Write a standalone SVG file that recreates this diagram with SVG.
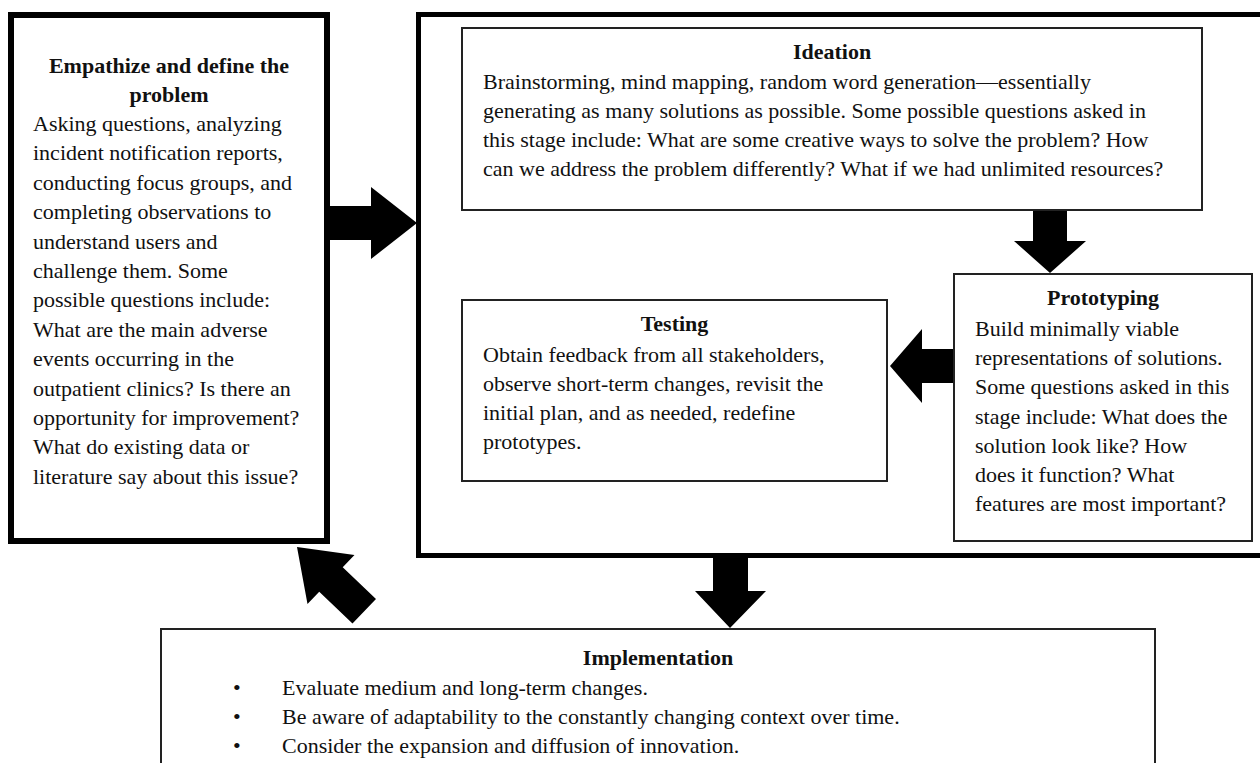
<svg xmlns="http://www.w3.org/2000/svg" width="1260" height="763" viewBox="0 0 1260 763">
<style>
.t{font-family:"Liberation Serif","Times New Roman",serif;font-size:22px;fill:#111}
.b{font-weight:bold;text-anchor:middle}
.thick{fill:#fff;stroke:#000;stroke-width:6}
.thin{fill:#fff;stroke:#222;stroke-width:2}
.arr{fill:#000;stroke:none}
</style>
<rect width="1260" height="763" fill="#fff"/>
<g id="cycle-frame">
<rect class="thick" x="418.5" y="14.5" width="850" height="541" style="stroke-width:5"/>
</g>
<g id="empathize">
<rect class="thick" x="11" y="15" width="316" height="526"/>
<text class="t b" x="169" y="73">Empathize and define the</text>
<text class="t b" x="169" y="102">problem</text>
<text class="t" x="33" y="131">Asking questions, analyzing</text>
<text class="t" x="33" y="160.4">incident notification reports,</text>
<text class="t" x="33" y="189.8">conducting focus groups, and</text>
<text class="t" x="33" y="219.2">completing observations to</text>
<text class="t" x="33" y="248.6">understand users and</text>
<text class="t" x="33" y="278">challenge them. Some</text>
<text class="t" x="33" y="307.4">possible questions include:</text>
<text class="t" x="33" y="336.8">What are the main adverse</text>
<text class="t" x="33" y="366.2">events occurring in the</text>
<text class="t" x="33" y="395.6">outpatient clinics? Is there an</text>
<text class="t" x="33" y="425">opportunity for improvement?</text>
<text class="t" x="33" y="454.4">What do existing data or</text>
<text class="t" x="33" y="483.8">literature say about this issue?</text>
</g>
<g id="ideation">
<rect class="thin" x="462" y="28" width="740" height="182"/>
<text class="t b" x="832" y="59">Ideation</text>
<text class="t" x="483" y="89">Brainstorming, mind mapping, random word generation—essentially</text>
<text class="t" x="483" y="118">generating as many solutions as possible. Some possible questions asked in</text>
<text class="t" x="483" y="147">this stage include: What are some creative ways to solve the problem? How</text>
<text class="t" x="483" y="176">can we address the problem differently? What if we had unlimited resources?</text>
</g>
<g id="testing">
<rect class="thin" x="462" y="300" width="425" height="181"/>
<text class="t b" x="674.5" y="331">Testing</text>
<text class="t" x="483" y="362">Obtain feedback from all stakeholders,</text>
<text class="t" x="483" y="391">observe short-term changes, revisit the</text>
<text class="t" x="483" y="420">initial plan, and as needed, redefine</text>
<text class="t" x="483" y="449">prototypes.</text>
</g>
<g id="prototyping">
<rect class="thin" x="954" y="274" width="298" height="267"/>
<text class="t b" x="1103" y="305">Prototyping</text>
<text class="t" x="975" y="336">Build minimally viable</text>
<text class="t" x="975" y="365">representations of solutions.</text>
<text class="t" x="975" y="394">Some questions asked in this</text>
<text class="t" x="975" y="424">stage include: What does the</text>
<text class="t" x="975" y="453">solution look like? How</text>
<text class="t" x="975" y="482">does it function? What</text>
<text class="t" x="975" y="511">features are most important?</text>
</g>
<g id="implementation">
<rect class="thin" x="161" y="629" width="994" height="200"/>
<text class="t b" x="658" y="665">Implementation</text>
<text class="t" x="233" y="695">•</text>
<text class="t" x="282" y="695">Evaluate medium and long-term changes.</text>
<text class="t" x="233" y="724">•</text>
<text class="t" x="282" y="724">Be aware of adaptability to the constantly changing context over time.</text>
<text class="t" x="233" y="753">•</text>
<text class="t" x="282" y="753">Consider the expansion and diffusion of innovation.</text>
</g>
<g id="connectors">
<polygon class="arr" points="330,206 371,206 371,187 417,223 371,259 371,240 330,240"/>
<polygon class="arr" points="1033,211 1067,211 1067,241 1086,241 1050,273 1014,241 1033,241"/>
<polygon class="arr" points="953,349 922,349 922,329 890,366 922,403 922,383 953,383"/>
<polygon class="arr" points="713,558 748,558 748,591 766,591 730,628 695,591 713,591"/>
<polygon class="arr" transform="translate(297,547) rotate(43.7)" points="0,0 47,-34 47,-17 93,-17 93,17 47,17 47,34"/>
</g>
</svg>
